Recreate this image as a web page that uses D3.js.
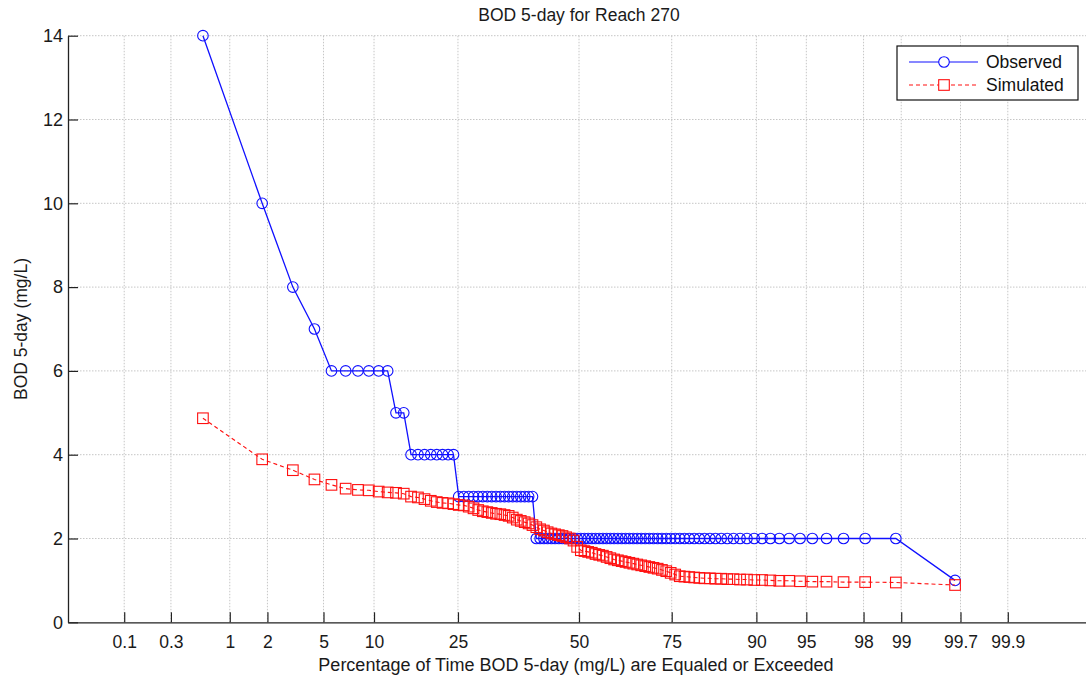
<!DOCTYPE html>
<html>
<head>
<meta charset="utf-8">
<script src="https://cdn.jsdelivr.net/npm/d3@7"></script>
<style>
  html, body { margin: 0; padding: 0; background: #fff; }
  svg { display: block; font-family: Arial, "Liberation Sans", Helvetica, sans-serif; }
</style>
</head>
<body>
<svg id="chart" width="1086" height="681"></svg>
<script>
// Sorted BOD 5-day samples (mg/L), highest first
const observed = [
  14, 10, 8, 7,
  6, 6, 6, 6, 6, 6,
  5, 5,
  4, 4, 4, 4, 4, 4, 4, 4,
  3, 3, 3, 3, 3, 3, 3, 3, 3, 3, 3, 3, 3, 3, 3, 3, 3, 3,
  2, 2, 2, 2, 2, 2, 2, 2, 2, 2, 2, 2, 2, 2, 2, 2, 2, 2, 2, 2,
  2, 2, 2, 2, 2, 2, 2, 2, 2, 2, 2, 2, 2, 2, 2, 2, 2, 2, 2, 2,
  2, 2, 2, 2, 2, 2, 2, 2, 2, 2, 2, 2, 2, 2, 2, 2, 2, 2, 2, 2,
  2,
  1
];

const simulated = [
  4.87, 3.89, 3.63, 3.41, 3.28, 3.19, 3.16, 3.15, 3.12, 3.10,
  3.09, 3.07, 3.00, 2.98, 2.94, 2.90, 2.87, 2.85, 2.84, 2.82,
  2.80, 2.79, 2.76, 2.72, 2.68, 2.65, 2.63, 2.61, 2.59, 2.58,
  2.56, 2.54, 2.50, 2.45, 2.42, 2.39, 2.36, 2.32, 2.27, 2.22,
  2.19, 2.15, 2.12, 2.10, 2.08, 2.06, 2.03, 2.00, 1.95, 1.80,
  1.72, 1.70, 1.68, 1.66, 1.63, 1.61, 1.59, 1.56, 1.53, 1.50,
  1.48, 1.46, 1.44, 1.42, 1.40, 1.38, 1.36, 1.34, 1.32, 1.30,
  1.28, 1.25, 1.22, 1.18, 1.14, 1.10, 1.09, 1.08, 1.07, 1.06,
  1.05, 1.05, 1.04, 1.04, 1.03, 1.03, 1.02, 1.02, 1.01, 1.01,
  1.00, 0.99, 0.99, 0.98, 0.97, 0.97, 0.96, 0.96, 0.95, 0.89
];

// Probability-axis ticks: label text and location in standard-normal units
const xTickLabels = ["0.1", "0.3", "1", "2", "5", "10", "25", "50", "75", "90", "95", "98", "99", "99.7", "99.9"];
const xTickQuantiles = [-3.115, -2.795, -2.392, -2.134, -1.750, -1.404, -0.829, 0, 0.635, 1.215, 1.557, 1.949, 2.207, 2.613, 2.937];

const yTicks = [0, 2, 4, 6, 8, 10, 12, 14];

// Inverse standard normal CDF (Acklam's rational approximation)
function normInv(p) {
  const a = [-3.969683028665376e+01, 2.209460984245205e+02, -2.759285104469687e+02,
             1.383577518672690e+02, -3.066479806614716e+01, 2.506628277459239e+00];
  const b = [-5.447609879822406e+01, 1.615858368580409e+02, -1.556989798598866e+02,
             6.680131188771972e+01, -1.328068155288572e+01];
  const c = [-7.784894002430293e-03, -3.223964580411365e-01, -2.400758277161838e+00,
             -2.549732539343734e+00, 4.374664141464968e+00, 2.938163982698783e+00];
  const d = [7.784695709041462e-03, 3.224671290700398e-01, 2.445134137142996e+00,
             3.754408661907416e+00];
  const pl = 0.02425, ph = 1 - pl;
  let q, r;
  if (p < pl) {
    q = Math.sqrt(-2 * Math.log(p));
    return (((((c[0]*q+c[1])*q+c[2])*q+c[3])*q+c[4])*q+c[5]) / ((((d[0]*q+d[1])*q+d[2])*q+d[3])*q+1);
  }
  if (p <= ph) {
    q = p - 0.5; r = q * q;
    return (((((a[0]*r+a[1])*r+a[2])*r+a[3])*r+a[4])*r+a[5])*q / (((((b[0]*r+b[1])*r+b[2])*r+b[3])*r+b[4])*r+1);
  }
  q = Math.sqrt(-2 * Math.log(1 - p));
  return -(((((c[0]*q+c[1])*q+c[2])*q+c[3])*q+c[4])*q+c[5]) / ((((d[0]*q+d[1])*q+d[2])*q+d[3])*q+1);
}

// Exceedance position for zero-based rank i of n (Hazen plotting position)
function exceedZ(i, n) { return normInv((i + 0.5) / n); }

const svg = d3.select("#chart");
const plotLeft = 68, plotRight = 1090, plotTop = 35.7, plotBottom = 622.3;

const x = d3.scaleLinear().domain([-3.5, 3.5]).range([plotLeft, plotRight]);
const y = d3.scaleLinear().domain([0, 14]).range([plotBottom, plotTop]);

const gridColor = "#c6c6c6";
const textColor = "#1a1a1a";

// Dotted grid at every tick
const grid = svg.append("g");
grid.selectAll("line.gx").data(xTickQuantiles).join("line")
  .attr("x1", d => x(d)).attr("x2", d => x(d))
  .attr("y1", y(0)).attr("y2", y(14))
  .attr("stroke", gridColor).attr("stroke-width", 1).attr("stroke-dasharray", "1.5,1.5");
grid.selectAll("line.gy").data(yTicks.filter(v => v > 0)).join("line")
  .attr("x1", x(-3.5)).attr("x2", plotRight)
  .attr("y1", d => y(d)).attr("y2", d => y(d))
  .attr("stroke", gridColor).attr("stroke-width", 1).attr("stroke-dasharray", "1.5,1.5");

// Axes with inward ticks
const xAxis = d3.axisBottom(x)
  .tickValues(xTickQuantiles)
  .tickFormat((d, i) => xTickLabels[i])
  .tickSizeInner(-10).tickSizeOuter(0).tickPadding(13);
const gx = svg.append("g").attr("transform", `translate(0,${y(0)})`).call(xAxis);
gx.select(".domain").attr("stroke", "#222").attr("stroke-width", 1.3);
gx.selectAll(".tick line").attr("stroke", "#222").attr("stroke-width", 1.2);
gx.selectAll(".tick text").attr("font-size", 17.5).attr("fill", textColor)
  .attr("font-family", "Arial, 'Liberation Sans', sans-serif");

const yAxis = d3.axisLeft(y)
  .tickValues(yTicks)
  .tickSizeInner(-10).tickSizeOuter(0).tickPadding(5);
const gy = svg.append("g").attr("transform", `translate(${x(-3.5)},0)`).call(yAxis);
gy.select(".domain").attr("stroke", "#222").attr("stroke-width", 1.3);
gy.selectAll(".tick line").attr("stroke", "#222").attr("stroke-width", 1.2);
gy.selectAll(".tick text").attr("font-size", 18).attr("fill", textColor)
  .attr("font-family", "Arial, 'Liberation Sans', sans-serif");

// Titles
svg.append("text").attr("x", (plotLeft + plotRight) / 2).attr("y", 21)
  .attr("text-anchor", "middle").attr("font-size", 17.5).attr("fill", textColor)
  .text("BOD 5-day for Reach 270");
svg.append("text").attr("x", 576).attr("y", 671)
  .attr("text-anchor", "middle").attr("font-size", 18).attr("fill", textColor)
  .text("Percentage of Time BOD 5-day (mg/L) are Equaled or Exceeded");
svg.append("text")
  .attr("transform", `translate(27,${(y(0) + y(14)) / 2}) rotate(-90)`)
  .attr("text-anchor", "middle").attr("font-size", 17.5).attr("fill", textColor)
  .text("BOD 5-day (mg/L)");

// Series
const blue = "#1010ff";
const red = "#ff1010";
const obsPts = observed.map((v, i) => [exceedZ(i, observed.length), v]);
const simPts = simulated.map((v, i) => [exceedZ(i, simulated.length), v]);
const line = d3.line().x(d => x(d[0])).y(d => y(d[1]));

svg.append("path").datum(obsPts).attr("d", line)
  .attr("fill", "none").attr("stroke", blue).attr("stroke-width", 1.3);
svg.append("g").selectAll("circle").data(obsPts).join("circle")
  .attr("cx", d => x(d[0])).attr("cy", d => y(d[1])).attr("r", 5.3)
  .attr("fill", "none").attr("stroke", blue).attr("stroke-width", 1.1);

svg.append("path").datum(simPts).attr("d", line)
  .attr("fill", "none").attr("stroke", red).attr("stroke-width", 1.1)
  .attr("stroke-dasharray", "4,3");
const sq = 10.6;
svg.append("g").selectAll("rect").data(simPts).join("rect")
  .attr("x", d => x(d[0]) - sq / 2).attr("y", d => y(d[1]) - sq / 2)
  .attr("width", sq).attr("height", sq)
  .attr("fill", "none").attr("stroke", red).attr("stroke-width", 1.1);

// Legend
const lg = svg.append("g");
lg.append("rect").attr("x", 897).attr("y", 46).attr("width", 181).attr("height", 54)
  .attr("fill", "#fff").attr("stroke", "#111").attr("stroke-width", 1.2);
const legendItems = [
  { name: "Observed", color: blue, dash: null, shape: "circle" },
  { name: "Simulated", color: red, dash: "4,3", shape: "square" }
];
legendItems.forEach((it, k) => {
  const cy = 62 + k * 23;
  lg.append("line").attr("x1", 909).attr("x2", 978).attr("y1", cy).attr("y2", cy)
    .attr("stroke", it.color).attr("stroke-width", 1.2)
    .attr("stroke-dasharray", it.dash);
  if (it.shape === "circle") {
    lg.append("circle").attr("cx", 944).attr("cy", cy).attr("r", 5.3)
      .attr("fill", "#fff").attr("stroke", it.color).attr("stroke-width", 1.1);
  } else {
    lg.append("rect").attr("x", 944 - sq / 2).attr("y", cy - sq / 2).attr("width", sq).attr("height", sq)
      .attr("fill", "#fff").attr("stroke", it.color).attr("stroke-width", 1.1);
  }
  lg.append("text").attr("x", 986).attr("y", cy + 6).attr("font-size", 17.5).attr("fill", "#111")
    .text(it.name);
});
</script>
</body>
</html>
